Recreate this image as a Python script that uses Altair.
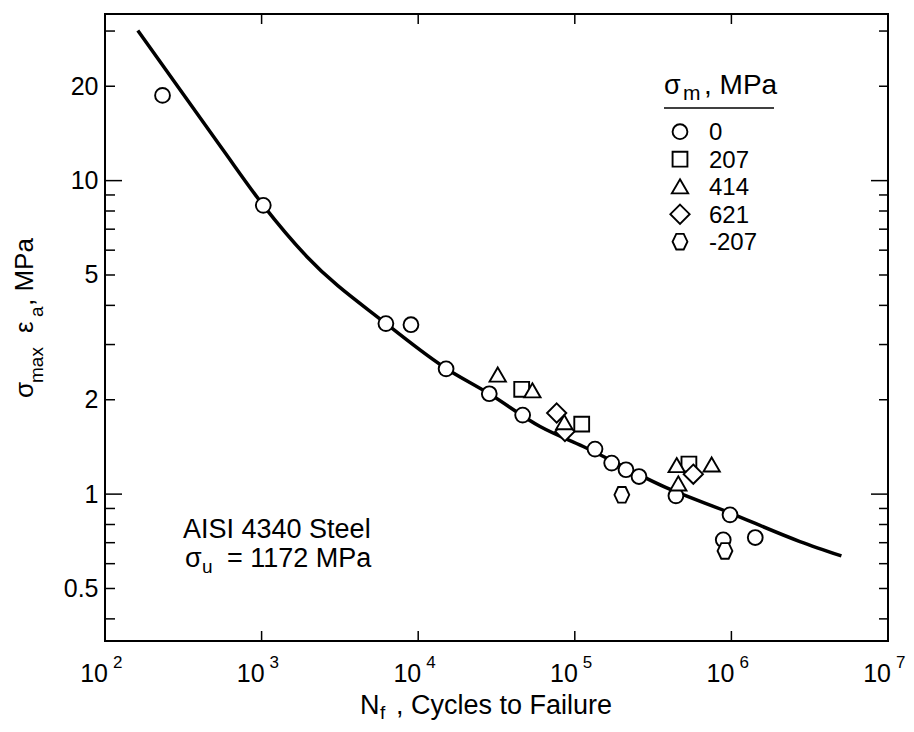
import altair as alt
import pandas as pd

FONT = "Liberation Sans"

# ---- fitted curve ----
curve_N = [162, 556, 1025, 1941, 6220, 14460, 28440, 60000, 113200, 390000, 933000, 2740000, 5040000]
curve_S = [30.1, 12.7, 8.34, 5.73, 3.50, 2.55, 2.09, 1.643, 1.419, 1.045, 0.880, 0.706, 0.635]

# ---- test data by mean stress (MPa) ----
cats = ["0", "207", "414", "621", "-207"]
n0 = [233, 1025, 6220, 8990, 15070, 28440, 46450, 134600, 172000, 212300, 257000, 442400, 980000, 887000, 1420000]
s0 = [18.7, 8.34, 3.50, 3.47, 2.51, 2.09, 1.787, 1.392, 1.256, 1.196, 1.138, 0.9875, 0.859, 0.715, 0.727]
n207 = [45800, 110700, 535400]
s207 = [2.16, 1.672, 1.247]
n414 = [32200, 53600, 85700, 447500, 748000, 458000]
s414 = [2.40, 2.137, 1.692, 1.234, 1.240, 1.079]
n621 = [76600, 86500, 571000]
s621 = [1.814, 1.585, 1.158]
nm207 = [199700, 910000]
sm207 = [0.995, 0.659]

# ---- axis ticks / labels ----
y_label_vals = [0.5, 1, 2, 5, 10, 20]
y_minor = [0.4, 0.5, 0.6, 0.7, 0.8, 0.9, 2, 3, 4, 5, 6, 7, 8, 9, 20, 30]
y_major = [1, 10]
x_inner = [1e3, 1e4, 1e5, 1e6]
x_label_vals = [1e2, 1e3, 1e4, 1e5, 1e6, 1e7]
x_exps = ["2", "3", "4", "5", "6", "7"]

W, H = 783, 627

xs = alt.Scale(type="log", domain=[100, 1e7], nice=False)
ys = alt.Scale(type="log", domain=[0.34, 34], nice=False)
yax = alt.Axis(values=y_label_vals, format="~g", ticks=False, domain=False, grid=False,
               labelFontSize=25, labelPadding=7, labelColor="black", labelFont=FONT, title=None)

rows = []
for cat, ns, ss in [("0", n0, s0), ("207", n207, s207), ("621", n621, s621),
                    ("414", n414, s414), ("-207", nm207, sm207)]:
    rows += [{"N": n, "S": s, "cat": cat} for n, s in zip(ns, ss)]
pts_df = pd.DataFrame(rows)

curve = alt.Chart(pd.DataFrame({"N": curve_N, "S": curve_S})).mark_line(
    color="black", strokeWidth=3.5, interpolate="monotone"
).encode(x=alt.X("N:Q", scale=xs, axis=None), y=alt.Y("S:Q", scale=ys, axis=yax))

TRI = "M0,-1L1.1,0.9L-1.1,0.9Z"
DIA = "M0,-1.3L1.3,0L0,1.3L-1.3,0Z"
HEX = "M-1,0L-0.5,-1.05L0.5,-1.05L1,0L0.5,1.05L-0.5,1.05Z"
shapes = ["circle", "square", TRI, DIA, HEX]
shape_scale = alt.Scale(domain=cats, range=shapes)

point_style = dict(filled=False, color="black", fill="white", stroke="black", strokeWidth=1.9,
                   opacity=1, fillOpacity=1, size=220)

points = alt.Chart(pts_df).mark_point(**point_style).encode(
    x=alt.X("N:Q", scale=xs, axis=None),
    y=alt.Y("S:Q", scale=ys, axis=yax),
    shape=alt.Shape("cat:N", scale=shape_scale, legend=None),
)


def yticks(vals, x0, x1):
    return alt.Chart(pd.DataFrame({"v": vals})).mark_rule(color="black", strokeWidth=1.5).encode(
        y=alt.Y("v:Q", scale=ys, axis=yax), x=alt.value(x0), x2=alt.value(x1))


def xticks(vals, y0, y1):
    return alt.Chart(pd.DataFrame({"v": vals})).mark_rule(color="black", strokeWidth=1.5).encode(
        x=alt.X("v:Q", scale=xs, axis=None), y=alt.value(y0), y2=alt.value(y1))


tick_layers = [
    yticks(y_minor, 0, 10), yticks(y_major, 0, 17),
    yticks(y_minor, W, W - 9), yticks(y_major, W, W - 17),
    xticks(x_inner, H, H - 10), xticks(x_inner, 0, 10),
]

xlab_df = pd.DataFrame({"v": x_label_vals, "e": x_exps})
xlab10 = alt.Chart(xlab_df).mark_text(align="right", baseline="alphabetic", fontSize=25, font=FONT,
                                      dx=3, color="black").encode(
    x=alt.X("v:Q", scale=xs, axis=None), y=alt.value(668), text=alt.value("10"))
xlabexp = alt.Chart(xlab_df).mark_text(align="left", baseline="alphabetic", fontSize=17, font=FONT,
                                       dx=8, color="black").encode(
    x=alt.X("v:Q", scale=xs, axis=None), y=alt.value(654), text="e:N")


def txt(t, x, y, size, angle=0, align="left"):
    return alt.Chart(pd.DataFrame({"t": [t]})).mark_text(
        align=align, baseline="alphabetic", fontSize=size, font=FONT, angle=angle, color="black"
    ).encode(x=alt.value(x), y=alt.value(y), text="t:N")


# ---- hand-built legend (symbols use the same shape scale) ----
legend_layers = []
for i, cat in enumerate(cats):
    yc = 117.7 + 27.5 * i
    d = pd.DataFrame({"cat": [cat]})
    legend_layers.append(alt.Chart(d).mark_point(**point_style).encode(
        x=alt.value(575), y=alt.value(yc), shape=alt.Shape("cat:N", scale=shape_scale, legend=None)))
    legend_layers.append(alt.Chart(d).mark_text(
        align="left", baseline="alphabetic", fontSize=24, font=FONT, color="black").encode(
        x=alt.value(604), y=alt.value(yc + 8.5), text="cat:N"))

texts = [
    # x title
    txt("N", 255, 700, 27), txt("f", 275, 705, 19), txt(", Cycles to Failure", 291, 700, 27),
    # y title (rotated)
    txt("σ", -72, 384, 26, 270), txt("max", -62, 369, 19, 270), txt("ε", -72, 319, 26, 270),
    txt("a", -62, 303, 19, 270), txt(", MPa", -72, 292, 26, 270),
    # legend title
    txt("σ", 559, 80, 27), txt("m", 578, 86, 21), txt(", MPa", 599, 80, 28),
    # annotation
    txt("AISI 4340 Steel", 78, 524, 27),
    txt("σ", 80, 553, 27), txt("u", 97, 559, 19), txt("= 1172 MPa", 122, 553, 27),
]

leg_rule = alt.Chart(pd.DataFrame({"a": [0]})).mark_rule(color="black", strokeWidth=1.5).encode(
    x=alt.value(559), x2=alt.value(669), y=alt.value(94))

chart = alt.layer(curve, *tick_layers, points, xlab10, xlabexp, leg_rule, *legend_layers, *texts).properties(
    width=W, height=H,
    padding={"left": 97, "top": 6, "right": 18, "bottom": 82},
    autosize=alt.AutoSizeParams(type="none"),
).configure_view(stroke="black", strokeWidth=2)

chart.save("out.html", embed_options={"renderer": "svg", "actions": False})
